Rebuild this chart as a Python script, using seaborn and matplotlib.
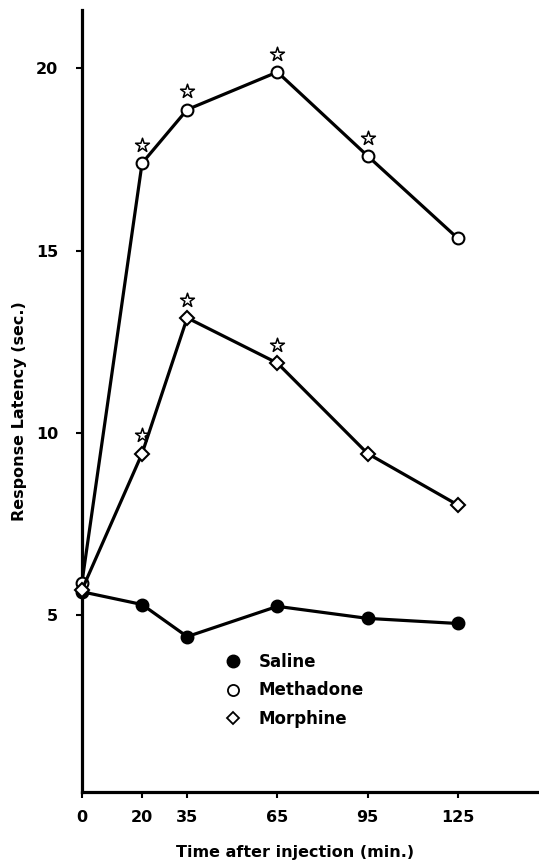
import matplotlib
matplotlib.use("Agg")
import matplotlib.pyplot as plt
from matplotlib.lines import Line2D
import seaborn as sns
import pandas as pd

# Time points (minutes after injection)
times = [0, 20, 35, 65, 95, 125]

# Mean response latency (sec.) per treatment
saline = [5.65, 5.3, 4.42, 5.25, 4.92, 4.78]
methadone = [5.9, 17.4, 18.87, 19.9, 17.6, 15.34]
morphine = [5.7, 9.44, 13.16, 11.92, 9.44, 8.03]

# Time points flagged as significant (star above the point)
methadone_sig = [20, 35, 65, 95]
morphine_sig = [20, 35, 65]

x_ticks = [0, 20, 35, 65, 95, 125]
y_ticks = [5, 10, 15, 20]

labels = ["Saline", "Methadone", "Morphine"]

sns.set_theme(style="ticks")
plt.rcParams["font.family"] = ["DejaVu Sans"]
plt.rcParams["font.weight"] = "bold"
plt.rcParams["text.color"] = "black"
plt.rcParams["axes.labelcolor"] = "black"
plt.rcParams["xtick.color"] = "black"
plt.rcParams["ytick.color"] = "black"

fig = plt.figure(figsize=(5.39, 8.65), dpi=100)
ax = fig.add_axes([0.152, 0.0844, 0.848, 0.904])

df = pd.DataFrame({
    "time": times * 3,
    "latency": saline + methadone + morphine,
    "group": [labels[0]] * 6 + [labels[1]] * 6 + [labels[2]] * 6,
})

styles = {
    "Saline": dict(marker="o", markerfacecolor="black", markersize=8.5),
    "Methadone": dict(marker="o", markerfacecolor="white", markersize=8.5),
    "Morphine": dict(marker="D", markerfacecolor="white", markersize=7),
}

for name in labels:
    sub = df[df["group"] == name]
    sns.lineplot(data=sub, x="time", y="latency", ax=ax, color="black",
                 linewidth=2.3, markeredgecolor="black", markeredgewidth=1.5,
                 clip_on=False, zorder=3, legend=False, **styles[name])

# Significance stars
star_offset = 0.5
lookup = {"Methadone": dict(zip(times, methadone)),
          "Morphine": dict(zip(times, morphine))}
star_x = methadone_sig + morphine_sig
star_y = ([lookup["Methadone"][t] + star_offset for t in methadone_sig] +
          [lookup["Morphine"][t] + star_offset for t in morphine_sig])
sns.scatterplot(x=star_x, y=star_y, ax=ax, marker="*", s=110,
                facecolor="white", edgecolor="black", linewidth=1.1,
                zorder=4, legend=False)

ax.set_xlim(0, 152)
ax.set_ylim(0.16, 21.6)
ax.set_xticks(x_ticks)
ax.set_xticklabels([str(t) for t in x_ticks])
ax.set_yticks(y_ticks)
ax.set_yticklabels([str(t) for t in y_ticks])

sns.despine(ax=ax)
for side in ("left", "bottom"):
    ax.spines[side].set_linewidth(2.3)
    ax.spines[side].set_color("black")

ax.tick_params(axis="both", direction="out", length=4, width=1.5,
               colors="black", labelsize=11.5)
ax.tick_params(axis="y", pad=13)
ax.tick_params(axis="x", pad=9)
for lbl in ax.get_xticklabels() + ax.get_yticklabels():
    lbl.set_fontweight("bold")

ax.set_xlabel("Time after injection (min.)", fontsize=11.5, fontweight="bold",
              color="black")
ax.set_ylabel("Response Latency (sec.)", fontsize=11.5, fontweight="bold",
              color="black")
ax.xaxis.set_label_coords(0.466, -0.068)
ax.yaxis.set_label_coords(-0.12, 0.487)

handles = [
    Line2D([], [], linestyle="none", marker="o", markersize=9,
           markerfacecolor="black", markeredgecolor="black"),
    Line2D([], [], linestyle="none", marker="o", markersize=8,
           markerfacecolor="white", markeredgecolor="black", markeredgewidth=1.3),
    Line2D([], [], linestyle="none", marker="D", markersize=6.5,
           markerfacecolor="white", markeredgecolor="black", markeredgewidth=1.3),
]
leg = ax.legend(handles, labels, loc="center left", bbox_to_anchor=(0.295, 0.13),
                frameon=False, borderpad=0, handlelength=1.0, handletextpad=1.0,
                labelspacing=0.62, prop=dict(size=12, weight="bold"))
for t in leg.get_texts():
    t.set_color("black")

ax.set_facecolor("white")
fig.patch.set_facecolor("white")
fig.savefig("out.png", dpi=100)
